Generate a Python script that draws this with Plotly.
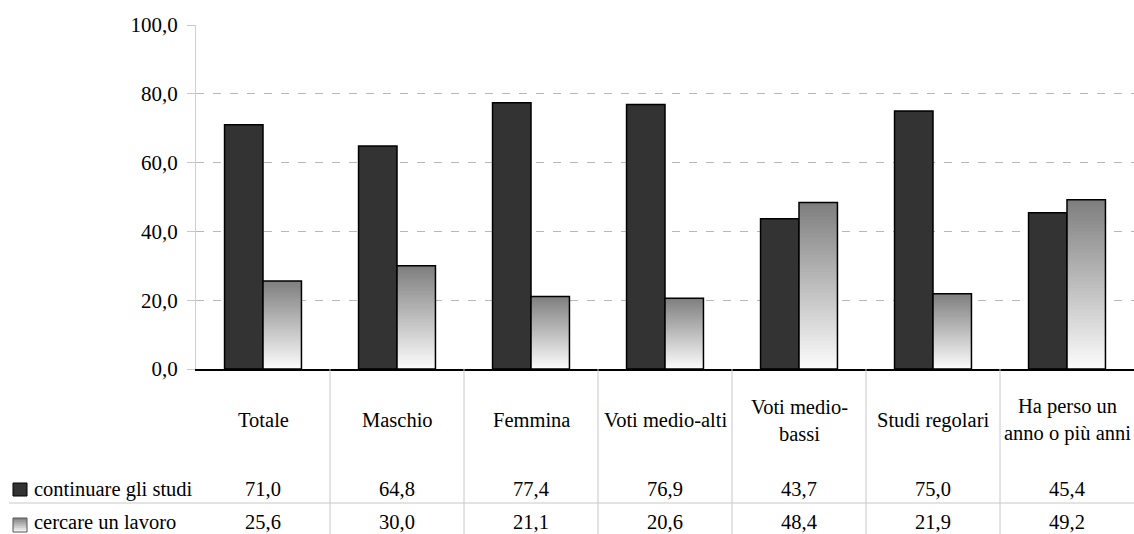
import plotly.graph_objects as go

# Categories shown in the data table under the chart
categories = ["Totale", "Maschio", "Femmina", "Voti medio-alti",
              "Voti medio-<br>bassi", "Studi regolari", "Ha perso un<br>anno o più anni"]
series_names = ["continuare gli studi", "cercare un lavoro"]
studi = [71.0, 64.8, 77.4, 76.9, 43.7, 75.0, 45.4]
lavoro = [25.6, 30.0, 21.1, 20.6, 48.4, 21.9, 49.2]
y_ticks = [0, 20, 40, 60, 80, 100]

W, H = 1134, 534
L, T, B_PX = 196, 25, 369          # plot box: left edge, top, baseline (px)
PLOT_H = B_PX - T
FONT = "Times New Roman, Liberation Serif, Tinos, DejaVu Serif, serif"
FS = 20.5
BAR_W = 0.287
DARK = "#333333"

def fmt(v):
    return f"{v:.1f}".replace(".", ",")

def py_to_paper(py):
    return (B_PX - py) / PLOT_H

def px_to_paper(px):
    return (px - L) / (W - L)

xs = list(range(len(categories)))
fig = go.Figure()

# dark series
fig.add_trace(go.Bar(
    x=[i - BAR_W / 2 for i in xs], y=studi, width=BAR_W, name=series_names[0],
    marker=dict(color=DARK, line=dict(color="black", width=1.5)),
    showlegend=False))

# light series: vertical gradient built from nested bars (tallest/darkest first)
N = 48
top_c, bot_c = 126, 252
for k in range(N, 0, -1):
    t = (k - 0.5) / N
    c = round(bot_c + (top_c - bot_c) * t)
    fig.add_trace(go.Bar(
        x=[i + BAR_W / 2 for i in xs], y=[v * k / N for v in lavoro], width=BAR_W,
        marker=dict(color=f"rgb({c},{c},{c})", line=dict(width=0)),
        showlegend=False, hoverinfo="skip"))
fig.add_trace(go.Bar(
    x=[i + BAR_W / 2 for i in xs], y=lavoro, width=BAR_W, name=series_names[1],
    marker=dict(color="rgba(0,0,0,0)", line=dict(color="black", width=1.5)),
    showlegend=False))

shapes = []
annotations = []

# table column separators below the axis
for i in range(len(categories) - 1):
    shapes.append(dict(type="line", xref="x", yref="paper", x0=i + 0.5, x1=i + 0.5,
                       y0=0, y1=py_to_paper(H + 2), line=dict(color="#c8c8c8", width=1)))
# row separator
shapes.append(dict(type="line", xref="paper", yref="paper", x0=px_to_paper(9), x1=1,
                   y0=py_to_paper(503), y1=py_to_paper(503),
                   line=dict(color="#c8c8c8", width=1)))

# category header row
for i, c in enumerate(categories):
    annotations.append(dict(x=i, y=py_to_paper(420), xref="x", yref="paper", text=c,
                            showarrow=False, xanchor="center", yanchor="middle",
                            font=dict(family=FONT, size=FS, color="black")))

# value rows with legend keys
rows = [(studi, 489), (lavoro, 522)]
for r, (vals, cy) in enumerate(rows):
    for i, v in enumerate(vals):
        annotations.append(dict(x=i, y=py_to_paper(cy), xref="x", yref="paper",
                                text=fmt(v), showarrow=False, xanchor="center",
                                yanchor="middle",
                                font=dict(family=FONT, size=FS, color="black")))
    annotations.append(dict(x=px_to_paper(32), y=py_to_paper(cy), xref="paper",
                            yref="paper", text=series_names[r], showarrow=False,
                            xanchor="left", yanchor="middle",
                            font=dict(family=FONT, size=FS, color="black")))

# legend key squares
k0, k1 = 13, 27
shapes.append(dict(type="rect", xref="paper", yref="paper",
                   x0=px_to_paper(k0), x1=px_to_paper(k1),
                   y0=py_to_paper(496), y1=py_to_paper(483),
                   fillcolor=DARK, line=dict(color="black", width=1)))
ky_top, ky_bot = 518, 532
steps = 7
for s in range(steps):
    t = 1 - (s + 0.5) / steps
    c = round(bot_c + (top_c - bot_c) * t)
    y_a = ky_top + (ky_bot - ky_top) * s / steps
    y_b = ky_top + (ky_bot - ky_top) * (s + 1) / steps
    shapes.append(dict(type="rect", xref="paper", yref="paper",
                       x0=px_to_paper(k0), x1=px_to_paper(k1),
                       y0=py_to_paper(y_b), y1=py_to_paper(y_a),
                       fillcolor=f"rgb({c},{c},{c})", line=dict(width=0)))
shapes.append(dict(type="rect", xref="paper", yref="paper",
                   x0=px_to_paper(k0), x1=px_to_paper(k1),
                   y0=py_to_paper(ky_bot), y1=py_to_paper(ky_top),
                   line=dict(color="#555555", width=1)))

fig.update_layout(
    width=W, height=H,
    margin=dict(l=L, r=0, t=T, b=H - B_PX, pad=0),
    plot_bgcolor="white", paper_bgcolor="white",
    barmode="overlay",
    separators=",.",
    showlegend=False,
    font=dict(family=FONT, size=FS, color="black"),
    xaxis=dict(range=[-0.5, len(categories) - 0.5], showticklabels=False,
               showgrid=False, zeroline=False, ticks="",
               showline=True, linecolor="black", linewidth=1.5),
    yaxis=dict(range=[0, 100], tickvals=y_ticks, tickformat=".1f",
               showgrid=True, gridcolor="#b8b8b8", gridwidth=1.2, griddash="8px,9px",
               zeroline=False, showline=True, linecolor="#d0d0d0", linewidth=1.3,
               ticks="outside", ticklen=8, tickcolor="#c8c8c8", tickwidth=1,
               ticklabelstandoff=5,
               tickfont=dict(family=FONT, size=21, color="black")),
    shapes=shapes, annotations=annotations,
)

fig.write_html("out.html")
